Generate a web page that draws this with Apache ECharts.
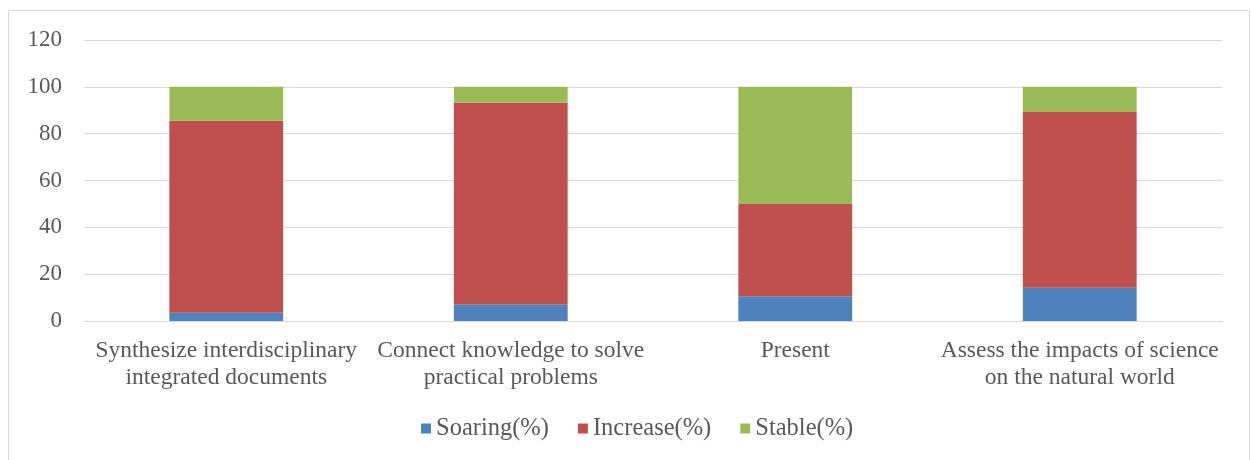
<!DOCTYPE html>
<html>
<head>
<meta charset="utf-8">
<script src="https://cdn.jsdelivr.net/npm/echarts@6/dist/echarts.min.js"></script>
<style>
html,body{margin:0;padding:0;background:#fff;overflow:hidden;}
#chart{width:1251px;height:460px;}
</style>
</head>
<body>
<div id="chart"></div>
<script>
var categories = [
  "Synthesize interdisciplinary\nintegrated documents",
  "Connect knowledge to solve\npractical problems",
  "Present",
  "Assess the impacts of science\non the natural world"
];
var seriesNames = ["Soaring(%)", "Increase(%)", "Stable(%)"];
var soaring = [3.5, 7.2, 10.6, 14.2];
var increase = [82.0, 86.1, 39.4, 75.0];
var stable = [14.5, 6.7, 50.0, 10.8];
var yTicks = [0, 20, 40, 60, 80, 100, 120];
var colors = ["#4F81BD", "#C0504D", "#9BBB59"];

var font = '"Liberation Serif", "Times New Roman", serif';
var chart = echarts.init(document.getElementById('chart'), null, {renderer: 'canvas'});
var values = [soaring, increase, stable];
chart.setOption({
  animation: false,
  color: colors,
  graphic: [{
    type: 'rect', silent: true, z: -1,
    shape: {x: 8.5, y: 10.5, width: 1241, height: 480},
    style: {fill: 'none', stroke: '#D9D9D9', lineWidth: 1}
  }],
  grid: {left: 84, right: 29, top: 40, bottom: 139, containLabel: false},
  legend: {
    bottom: 14, left: 416,
    itemWidth: 10, itemHeight: 10, itemGap: 29,
    icon: 'rect',
    textStyle: {fontFamily: font, fontSize: 24.5, color: '#595959'},
    data: seriesNames
  },
  xAxis: {
    type: 'category', data: categories,
    axisLine: {lineStyle: {color: '#D9D9D9', width: 1}},
    axisTick: {show: false},
    axisLabel: {interval: 0, fontFamily: font, fontSize: 23.5, color: '#595959', lineHeight: 27, margin: 16}
  },
  yAxis: {
    type: 'value', min: yTicks[0], max: yTicks[yTicks.length-1], interval: 20,
    axisLine: {show: false}, axisTick: {show: false},
    splitLine: {lineStyle: {color: '#D9D9D9', width: 1}},
    axisLabel: {fontFamily: font, fontSize: 23, color: '#595959', margin: 22}
  },
  series: seriesNames.map(function(n, i){
    return {
      name: n, type: 'bar', stack: 'total', data: values[i],
      barWidth: '40%',
      itemStyle: {color: colors[i]}
    };
  })
});
</script>
</body>
</html>
